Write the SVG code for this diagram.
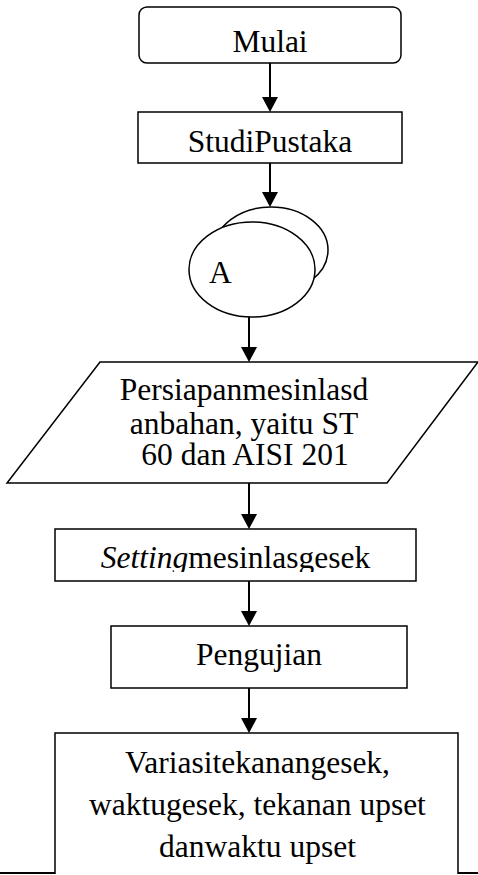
<svg xmlns="http://www.w3.org/2000/svg" width="478" height="875" viewBox="0 0 478 875">
<style>
.box{fill:#fff;stroke:#000;stroke-width:1.5}
.t{font-family:'Liberation Serif','Times New Roman',serif;font-size:31.5px;fill:#000}
.c{stroke:#000;stroke-width:2;fill:none}
</style>
<defs>
<clipPath id="clipSet"><rect x="55" y="529" width="361" height="43"/></clipPath>
</defs>
<g id="connectors">
<path class="c" d="M270,63 V98"/><path d="M262,97 H278 L270,112 Z"/>
<path class="c" d="M270,163 V193"/><path d="M262,192 H278 L270,207 Z"/>
<path class="c" d="M249,317 V348"/><path d="M241,347 H257 L249,362 Z"/>
<path class="c" d="M249,483 V515"/><path d="M241,514 H257 L249,529 Z"/>
<path class="c" d="M249,581 V612"/><path d="M241,611 H257 L249,626 Z"/>
<path class="c" d="M249,688 V719"/><path d="M241,718 H257 L249,733 Z"/>
<path class="c" d="M0,873 H56"/>
<path class="c" d="M457,873 H478"/>
</g>
<g id="mulai">
<rect class="box" x="139" y="7" width="262" height="56" rx="8"/>
<text class="t" x="270" y="52" text-anchor="middle">Mulai</text>
</g>
<g id="studi">
<rect class="box" x="138" y="112" width="264" height="51"/>
<text class="t" x="270" y="152" text-anchor="middle">StudiPustaka</text>
</g>
<g id="connectorA">
<ellipse class="box" cx="271" cy="250" rx="57" ry="43"/>
<ellipse class="box" cx="252" cy="269.5" rx="63" ry="47.5"/>
<text class="t" x="209" y="283">A</text>
</g>
<g id="persiapan">
<polygon class="box" points="100,362 478,362 387,483 7,483"/>
<text class="t" x="244" y="400" text-anchor="middle">Persiapanmesinlasd</text>
<text class="t" x="244" y="434" text-anchor="middle">anbahan, yaitu ST</text>
<text class="t" x="245" y="465" text-anchor="middle">60 dan AISI 201</text>
</g>
<g id="setting">
<rect class="box" x="55" y="529" width="361" height="52"/>
<text class="t" x="235.5" y="568" text-anchor="middle" clip-path="url(#clipSet)"><tspan font-style="italic">Setting</tspan>mesinlasgesek</text>
</g>
<g id="pengujian">
<rect class="box" x="111" y="626" width="296" height="62"/>
<text class="t" x="259" y="665" text-anchor="middle">Pengujian</text>
</g>
<g id="variasi">
<path class="box" d="M55,874 V733 H458 V874"/>
<text class="t" x="257.5" y="773" text-anchor="middle" font-size="32">Variasitekanangesek,</text>
<text class="t" x="257.5" y="815" text-anchor="middle" font-size="32">waktugesek, tekanan upset</text>
<text class="t" x="257.5" y="857" text-anchor="middle" font-size="32">danwaktu upset</text>
</g>
</svg>
